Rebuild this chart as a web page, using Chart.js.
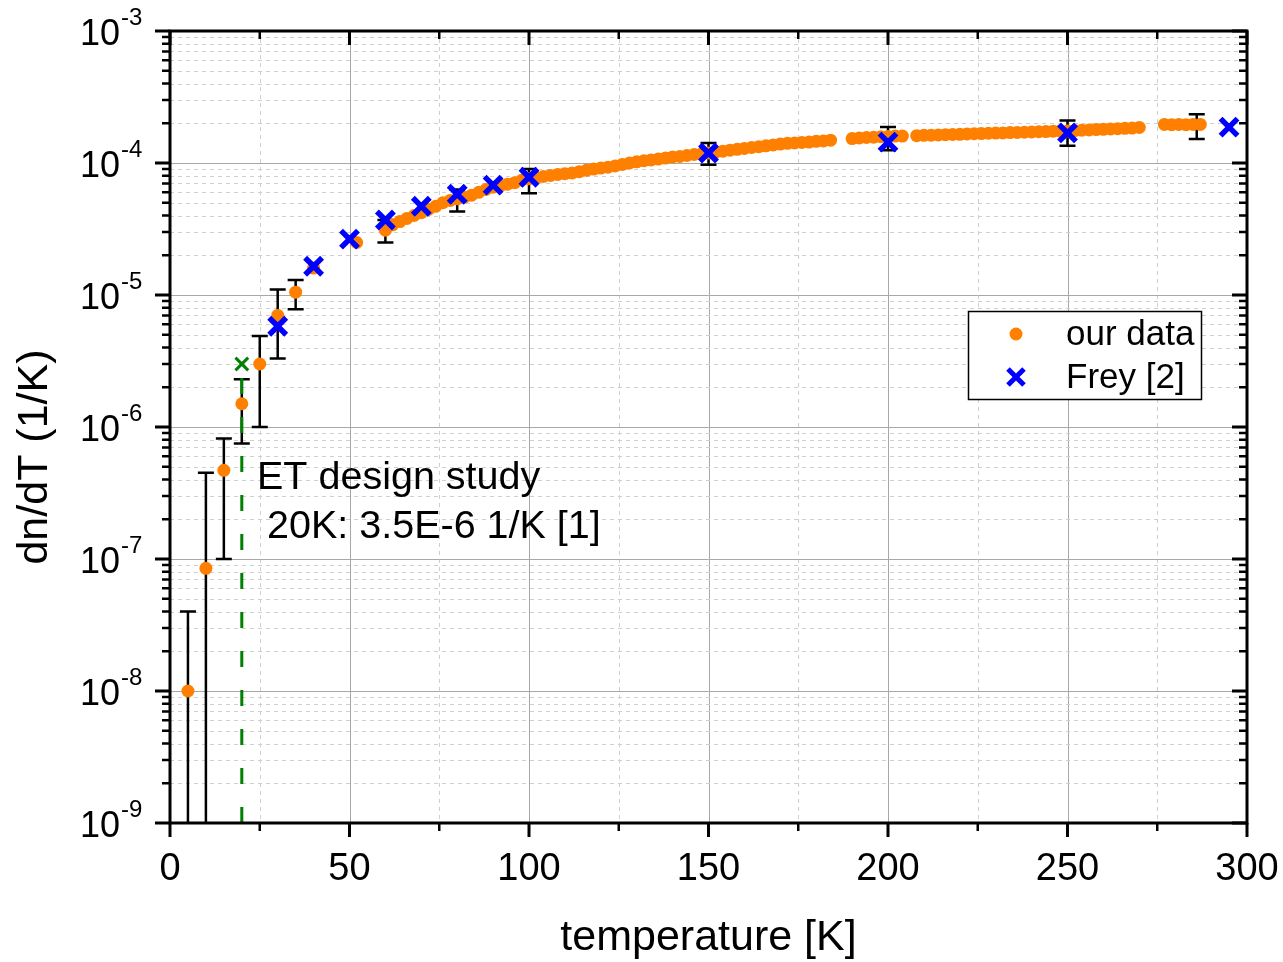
<!DOCTYPE html>
<html>
<head>
<meta charset="utf-8">
<script src="https://cdn.jsdelivr.net/npm/chart.js@4.4.1/dist/chart.umd.min.js"></script>
<style>
  html, body { margin: 0; padding: 0; background: #fff; }
  #wrap { width: 1283px; height: 962px; }
</style>
</head>
<body>
<div id="wrap"><canvas id="c" width="1283" height="962"></canvas></div>
<script>
// our data: temperature [K] and dn/dT [1/K]
const ourT = [5, 10, 15, 20, 25, 30, 35, 40, 52, 60,
  62, 64, 66, 68, 70, 72, 74, 76, 78, 80, 82, 84, 86, 88, 90, 92, 94, 96, 98, 100,
  102, 104, 106, 108, 110, 112, 114, 116, 118, 120, 122, 124, 126, 128, 130, 132, 134, 136, 138, 140,
  142, 144, 146, 148, 150, 152, 154, 156, 158, 160, 162, 164, 166, 168, 170, 172, 174, 176, 178, 180,
  182, 184, 190, 192, 194, 196, 198, 200, 202, 204, 208, 210, 212, 214, 216, 218, 220, 222, 224, 226,
  228, 230, 232, 234, 236, 238, 240, 242, 244, 246, 248, 250, 252, 254, 256, 258, 260, 262, 264, 266,
  268, 270, 277, 279, 281, 283, 285, 287];
const ourDn = [1e-8, 8.5e-8, 4.7e-7, 1.5e-6, 3.0e-6, 7.0e-6, 1.05e-5, 1.6e-5, 2.5e-5, 3.1e-5,
  3.4e-5, 3.6e-5, 3.8e-5, 4.0e-5, 4.2e-5, 4.45e-5, 4.7e-5, 5.0e-5, 5.2e-5, 5.35e-5, 5.5e-5, 5.7e-5, 6.0e-5, 6.3e-5, 6.55e-5, 6.75e-5, 6.9e-5, 7.1e-5, 7.4e-5, 7.6e-5,
  7.75e-5, 7.9e-5, 8.05e-5, 8.2e-5, 8.3e-5, 8.4e-5, 8.6e-5, 8.8e-5, 9.0e-5, 9.15e-5, 9.3e-5, 9.5e-5, 9.75e-5, 1.0e-4, 1.02e-4, 1.04e-4, 1.055e-4, 1.07e-4, 1.09e-4, 1.11e-4,
  1.12e-4, 1.14e-4, 1.16e-4, 1.17e-4, 1.19e-4, 1.21e-4, 1.23e-4, 1.25e-4, 1.27e-4, 1.29e-4, 1.31e-4, 1.33e-4, 1.35e-4, 1.37e-4, 1.39e-4, 1.41e-4, 1.42e-4, 1.43e-4, 1.44e-4, 1.46e-4,
  1.47e-4, 1.49e-4, 1.53e-4, 1.55e-4, 1.56e-4, 1.57e-4, 1.58e-4, 1.59e-4, 1.60e-4, 1.60e-4, 1.61e-4, 1.62e-4, 1.625e-4, 1.63e-4, 1.64e-4, 1.645e-4, 1.65e-4, 1.66e-4, 1.665e-4, 1.67e-4,
  1.68e-4, 1.685e-4, 1.69e-4, 1.70e-4, 1.705e-4, 1.71e-4, 1.72e-4, 1.725e-4, 1.73e-4, 1.74e-4, 1.745e-4, 1.75e-4, 1.76e-4, 1.77e-4, 1.78e-4, 1.79e-4, 1.80e-4, 1.81e-4, 1.82e-4, 1.83e-4,
  1.84e-4, 1.86e-4, 1.96e-4, 1.95e-4, 1.96e-4, 1.95e-4, 1.96e-4, 1.96e-4];

// error bars (lower bounds below 1e-9 run off the axis)
const errT  = [5, 10, 15, 20, 25, 30, 35, 60, 80, 100, 150, 200, 250, 286];
const errLo = [1e-12, 1e-12, 1.0e-7, 7.5e-7, 1.0e-6, 3.3e-6, 7.8e-6, 2.5e-5, 4.3e-5, 5.9e-5, 9.7e-5, 1.25e-4, 1.35e-4, 1.52e-4];
const errHi = [4.0e-8, 4.5e-7, 8.2e-7, 2.3e-6, 4.9e-6, 1.1e-5, 1.3e-5, 3.7e-5, 6.3e-5, 9.0e-5, 1.42e-4, 1.87e-4, 2.1e-4, 2.34e-4];

// Frey [2]
const freyT  = [30, 40, 50, 60, 70, 80, 90, 100, 150, 200, 250, 295];
const freyDn = [5.8e-6, 1.65e-5, 2.65e-5, 3.7e-5, 4.7e-5, 5.8e-5, 6.8e-5, 7.8e-5, 1.19e-4, 1.44e-4, 1.69e-4, 1.87e-4];

// ET design study value at 20 K
const etT  = [20, 20];
const etDn = [1e-9, 3.0e-6];

const xTickVals = [0, 25, 50, 75, 100, 125, 150, 175, 200, 225, 250, 275, 300];
const yExps = [-9, -8, -7, -6, -5, -4, -3];

const FONT = '"Liberation Sans", Arial, sans-serif';
const pts = (xs, ys) => xs.map((x, i) => ({ x, y: ys[i] }));

const frame = {
  id: 'frame',
  beforeDatasetsDraw(chart) {
    const { ctx, chartArea: a, scales: { x, y } } = chart;
    ctx.save();
    // grid
    ctx.lineWidth = 1;
    xTickVals.forEach(v => {
      const px = Math.round(x.getPixelForValue(v)) + 0.5;
      const major = v % 50 === 0;
      ctx.strokeStyle = major ? '#a8a8a8' : '#cfcfcf';
      ctx.setLineDash(major ? [] : [4, 4]);
      ctx.beginPath(); ctx.moveTo(px, a.top); ctx.lineTo(px, a.bottom); ctx.stroke();
    });
    yExps.forEach(e => {
      for (let m = 1; m < 10; m++) {
        if (e === -3 && m > 1) break;
        const py = Math.round(y.getPixelForValue(m * Math.pow(10, e))) + 0.5;
        ctx.strokeStyle = m === 1 ? '#a8a8a8' : '#cfcfcf';
        ctx.setLineDash(m === 1 ? [] : [4, 4]);
        ctx.beginPath(); ctx.moveTo(a.left, py); ctx.lineTo(a.right, py); ctx.stroke();
      }
    });
    ctx.setLineDash([]);
    // error bars
    ctx.beginPath(); ctx.rect(a.left, a.top, a.right - a.left, a.bottom - a.top); ctx.clip();
    ctx.strokeStyle = '#000'; ctx.lineWidth = 2.5;
    errT.forEach((t, i) => {
      const px = x.getPixelForValue(t);
      const lo = Math.min(a.bottom, y.getPixelForValue(errLo[i]));
      const hi = y.getPixelForValue(errHi[i]);
      ctx.beginPath(); ctx.moveTo(px, lo); ctx.lineTo(px, hi);
      ctx.moveTo(px - 8, hi); ctx.lineTo(px + 8, hi);
      if (lo < a.bottom) { ctx.moveTo(px - 8, lo); ctx.lineTo(px + 8, lo); }
      ctx.stroke();
    });
    ctx.restore();
  },
  afterDatasetsDraw(chart) {
    const { ctx, chartArea: a, scales: { x, y } } = chart;
    ctx.save();
    // annotation
    ctx.fillStyle = '#000';
    ctx.font = '39.5px ' + FONT;
    ctx.textAlign = 'left'; ctx.textBaseline = 'alphabetic';
    ctx.fillText('ET design study', 257, 489);
    ctx.fillText('20K: 3.5E-6 1/K [1]', 267, 538);
    // axes box
    ctx.strokeStyle = '#000'; ctx.lineWidth = 3;
    ctx.strokeRect(a.left, a.top, a.right - a.left, a.bottom - a.top);
    // x ticks: out at bottom, in at top
    xTickVals.forEach(v => {
      const px = x.getPixelForValue(v);
      const len = v % 50 === 0 ? 14 : 8;
      ctx.lineWidth = v % 50 === 0 ? 3 : 2.5;
      ctx.beginPath();
      ctx.moveTo(px, a.bottom); ctx.lineTo(px, a.bottom + len);
      ctx.moveTo(px, a.top); ctx.lineTo(px, a.top + len);
      ctx.stroke();
    });
    // y ticks: out at left, in at right
    yExps.forEach(e => {
      for (let m = 1; m < 10; m++) {
        if (e === -3 && m > 1) break;
        const py = y.getPixelForValue(m * Math.pow(10, e));
        const len = m === 1 ? 15 : 8;
        ctx.lineWidth = m === 1 ? 3 : 2.5;
        ctx.beginPath();
        ctx.moveTo(a.left - len, py); ctx.lineTo(a.left, py);
        ctx.moveTo(a.right, py); ctx.lineTo(a.right - len, py);
        ctx.stroke();
      }
    });
    ctx.restore();
  },
  afterDraw(chart) {
    const { ctx, scales: { y } } = chart;
    ctx.save();
    ctx.fillStyle = '#000';
    yExps.forEach(e => {
      const py = y.getPixelForValue(Math.pow(10, e));
      ctx.font = '36px ' + FONT;
      ctx.textAlign = 'right'; ctx.textBaseline = 'alphabetic';
      ctx.fillText('10', 120, py + 14);
      ctx.font = '24px ' + FONT;
      ctx.textAlign = 'left';
      ctx.fillText(String(e), 121, py - 6);
    });
    // y axis title
    ctx.save();
    ctx.translate(35, 457);
    ctx.rotate(-Math.PI / 2);
    ctx.font = '43px ' + FONT;
    ctx.textAlign = 'center'; ctx.textBaseline = 'middle';
    ctx.fillText('dn/dT (1/K)', 0, 0);
    ctx.restore();
    // legend
    ctx.fillStyle = '#fff';
    ctx.fillRect(968, 311, 233, 88);
    ctx.strokeStyle = '#000'; ctx.lineWidth = 1.5;
    ctx.strokeRect(968.5, 311.5, 233, 88);
    ctx.fillStyle = '#ff8000';
    ctx.beginPath(); ctx.arc(1016, 334, 6.5, 0, Math.PI * 2); ctx.fill();
    ctx.strokeStyle = '#0000ff'; ctx.lineWidth = 5;
    ctx.beginPath();
    ctx.moveTo(1008, 369); ctx.lineTo(1024, 385);
    ctx.moveTo(1024, 369); ctx.lineTo(1008, 385);
    ctx.stroke();
    ctx.fillStyle = '#000';
    ctx.font = '35px ' + FONT;
    ctx.textAlign = 'left';
    ctx.fillText('our data', 1066, 345);
    ctx.fillText('Frey [2]', 1066, 388);
    ctx.restore();
  }
};

new Chart(document.getElementById('c'), {
  type: 'scatter',
  data: {
    datasets: [
      {
        label: 'ET design study',
        data: pts(etT, etDn),
        showLine: true,
        borderColor: '#008000',
        borderWidth: 3,
        borderDash: [16, 23],
        pointRadius: 0,
        order: 3,
      },
      {
        label: 'our data',
        data: pts(ourT, ourDn),
        pointStyle: 'circle',
        pointRadius: 6.5,
        backgroundColor: '#ff8000',
        borderWidth: 0,
        order: 2,
      },
      {
        label: 'Frey [2]',
        data: pts(freyT, freyDn),
        pointStyle: 'crossRot',
        pointRadius: 12,
        borderColor: '#0000ff',
        borderWidth: 5.5,
        order: 1,
      },
      {
        label: 'ET 20K',
        data: pts([etT[1]], [etDn[1]]),
        pointStyle: 'crossRot',
        pointRadius: 9,
        borderColor: '#008000',
        borderWidth: 3,
        order: 0,
      },
    ],
  },
  options: {
    responsive: false,
    devicePixelRatio: 1,
    animation: false,
    layout: { padding: { left: 0, right: 36, top: 31, bottom: 0 } },
    plugins: { legend: { display: false }, tooltip: { enabled: false } },
    scales: {
      x: {
        type: 'linear',
        min: 0, max: 300,
        afterFit: (s) => { s.height = 139; s.paddingLeft = 0; s.paddingRight = 0; },
        grid: { display: false },
        border: { display: false },
        ticks: {
          stepSize: 50,
          padding: 16,
          color: '#000',
          font: { family: FONT, size: 38 },
          maxRotation: 0,
        },
        title: {
          display: true,
          text: 'temperature [K]',
          color: '#000',
          font: { family: FONT, size: 43 },
          padding: { top: 0, bottom: -2 },
        },
      },
      y: {
        type: 'logarithmic',
        min: 1e-9, max: 1e-3,
        afterFit: (s) => { s.width = 170; s.paddingTop = 0; s.paddingBottom = 0; },
        grid: { display: false },
        border: { display: false },
        ticks: { display: false },
        title: { display: false },
      },
    },
  },
  plugins: [frame],
});
</script>
</body>
</html>
